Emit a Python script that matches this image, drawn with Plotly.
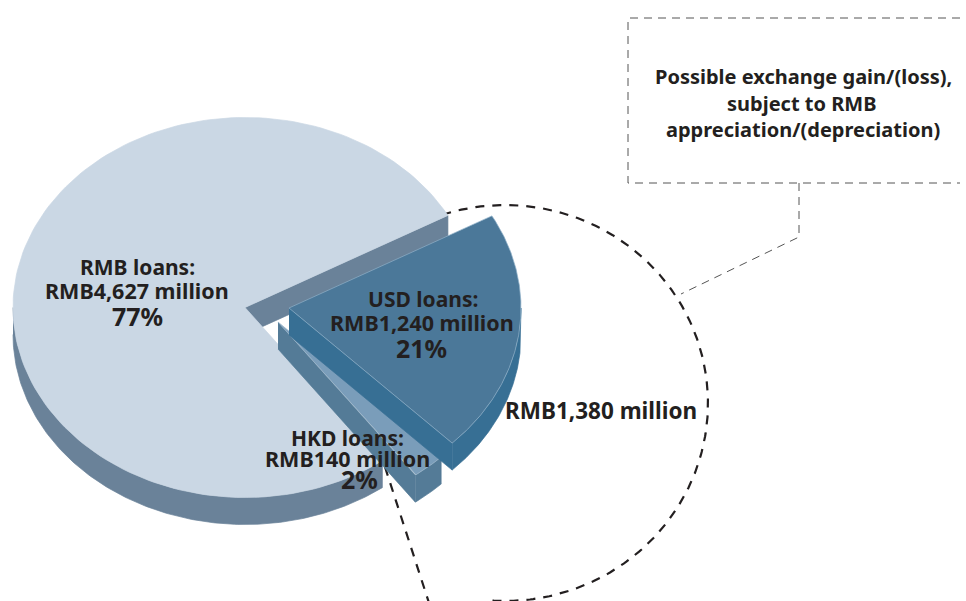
import numpy as np
import plotly.graph_objects as go

# Loan breakdown, RMB million
categories = ["RMB loans", "HKD loans", "USD loans"]
amounts = [4627, 140, 1240]
shown_amounts = ["RMB4,627 million", "RMB140 million", "RMB1,240 million"]
shown_shares = ["77%", "2%", "21%"]
foreign_total_label = "RMB1,380 million"
note_lines = ["Possible exchange gain/(loss),", "subject to RMB", "appreciation/(depreciation)"]

# Pie geometry on a page-sized plot area
START_DEG = 29.0
RX, RY = 232.0, 190.0
DEPTH = 27.0
CENTRES = {"RMB loans": (245.0, 307.5), "HKD loans": (278.0, 322.0), "USD loans": (289.0, 308.0)}
TOP = {"RMB loans": "#cad7e4", "HKD loans": "#7a9dba", "USD loans": "#4b7899"}
WALL = {"RMB loans": "#6a8299", "HKD loans": "#547b97", "USD loans": "#376f94"}
EDGE = {"RMB loans": "#cad7e4", "HKD loans": "#9db8cc", "USD loans": "#8fb0c8"}
INK = "#231f20"
GUIDE = "#555555"
FONT = "Noto Sans"

fig = go.Figure()


def poly(xs, ys, fill, edge=None):
    fig.add_trace(go.Scatter(
        x=list(xs), y=list(ys), mode="lines", fill="toself", fillcolor=fill,
        line=dict(color=edge or fill, width=0.7), hoverinfo="skip", showlegend=False,
    ))


def stroke(xs, ys, color, width, dash):
    fig.add_trace(go.Scatter(
        x=list(xs), y=list(ys), mode="lines", hoverinfo="skip", showlegend=False,
        line=dict(color=color, width=width, dash=dash),
    ))


def rim(cx, cy, a0, a1, drop=0.0, n=160):
    t = np.radians(np.linspace(a0, a1, n))
    return cx + RX * np.cos(t), cy - RY * np.sin(t) + drop


# Dashed outline of the foreign-currency portion, tucked behind the pie
arc_t = np.radians(np.linspace(108, -95, 220))
stroke(505 + 203 * np.cos(arc_t), 403 - 198 * np.sin(arc_t), INK, 2.2, "9px,8px")
stroke([385, 430], [467, 606], INK, 2.2, "9px,8px")

# Note box and its leader
stroke([960, 628, 628, 960], [18, 18, 183, 183], GUIDE, 1, "8px,6px")
stroke([799, 799, 681], [183, 237, 294], GUIDE, 1, "8px,6px")

# Slices run anticlockwise from the start angle, in proportion to their amounts
total = sum(amounts)
angle = START_DEG
for name, amount in zip(categories, amounts):
    a0, a1 = angle, angle + 360.0 * amount / total
    angle = a1
    cx, cy = CENTRES[name]

    # outer wall: only the part of the rim facing the viewer
    w0, w1 = max(a0, 180.0), min(a1, 360.0)
    if name == "USD loans":
        w0, w1 = a0, 360.0
    ox, oy = rim(cx, cy, w0, w1)
    bx, by = rim(cx, cy, w1, w0, DEPTH)
    poly(np.r_[ox, bx], np.r_[oy, by], WALL[name])

    # cut face along the leading edge
    ex, ey = rim(cx, cy, a0, a0, n=1)
    poly([cx, ex[0], ex[0], cx], [cy, ey[0], ey[0] + DEPTH, cy + DEPTH], WALL[name])

    # top face
    tx, ty = rim(cx, cy, a0, a1)
    poly(np.r_[cx, tx, cx], np.r_[cy, ty, cy], TOP[name], EDGE[name])


def label(x, y, text, size):
    fig.add_annotation(x=x, y=y, text=f"<b>{text}</b>", showarrow=False, xanchor="center", yanchor="middle",
                       font=dict(family=FONT, size=size, color=INK))


label(137, 267, "RMB loans:", 21)
label(137, 290, shown_amounts[0], 21.5)
label(137, 316, shown_shares[0], 25)
label(423, 299, "USD loans:", 21)
label(422, 322, shown_amounts[2], 21.5)
label(421, 348, shown_shares[2], 25)
label(347, 438, "HKD loans:", 21)
label(347, 458, shown_amounts[1], 21.5)
label(359, 479, shown_shares[1], 25)
label(601, 410, foreign_total_label, 22.5)
label(803, 76, note_lines[0], 20)
label(801, 103, note_lines[1], 20)
label(803, 129, note_lines[2], 20)

fig.update_layout(
    width=966, height=601, margin=dict(l=0, r=0, t=0, b=0),
    paper_bgcolor="white", plot_bgcolor="white", showlegend=False,
    xaxis=dict(range=[0, 966], visible=False, fixedrange=True),
    yaxis=dict(range=[601, 0], visible=False, fixedrange=True),
)
fig.write_html("out.html", config={"displayModeBar": False})
